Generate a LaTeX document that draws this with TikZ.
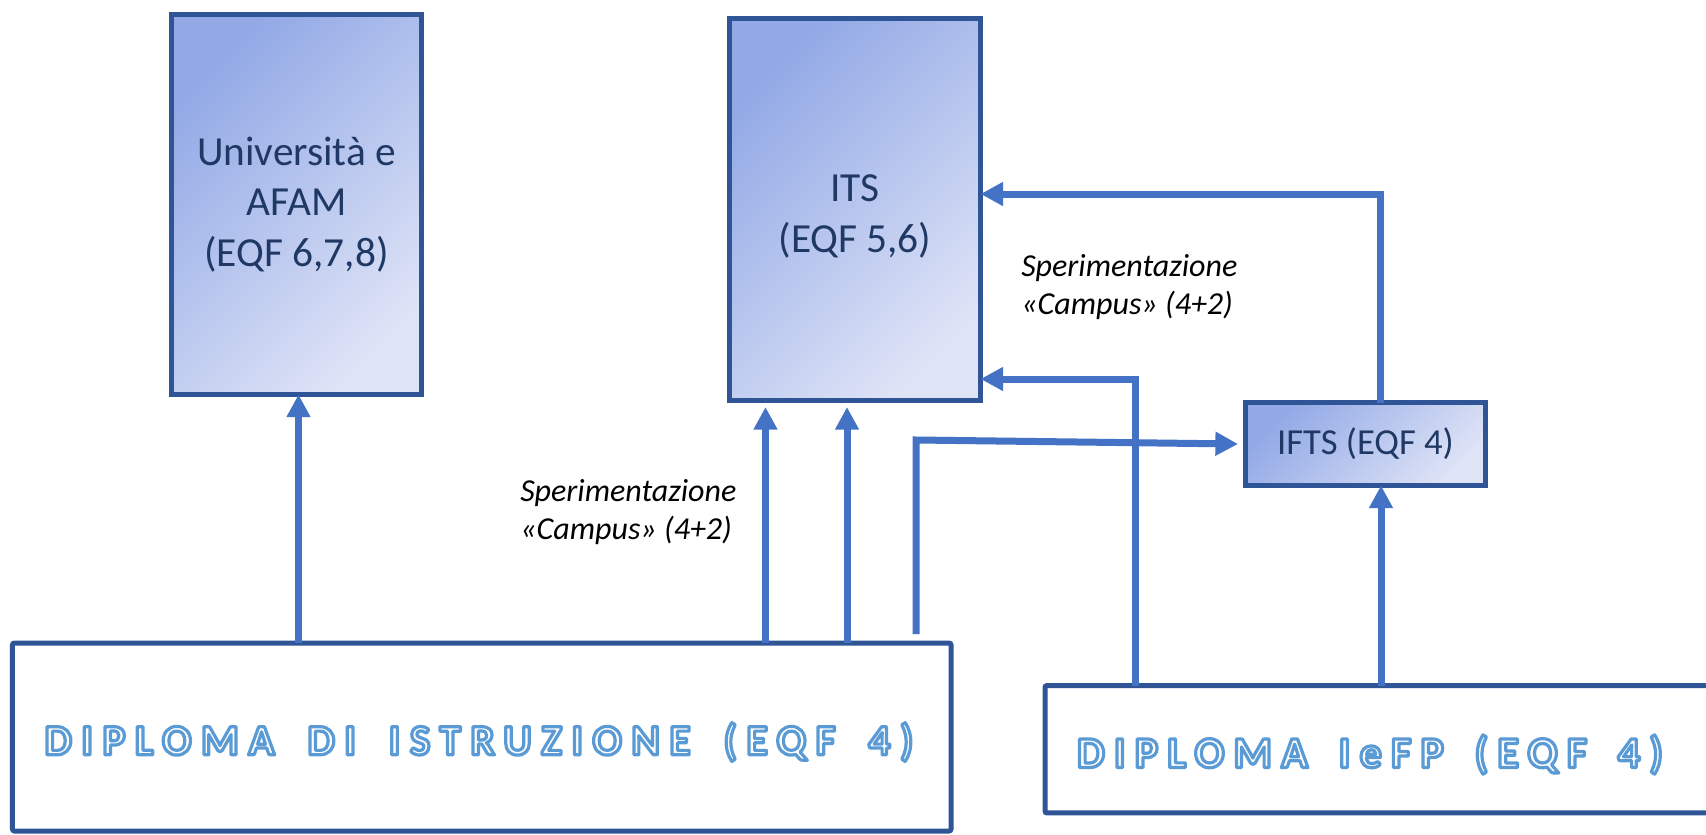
\documentclass[tikz,border=0pt]{standalone}
\usepackage{fontspec}
\setmainfont{Carlito}
\newfontfamily\spacedfontA[LetterSpace=22,WordSpace=1.7]{Carlito}
\newfontfamily\spacedfontB[LetterSpace=21,WordSpace=1.6]{Carlito}
\usetikzlibrary{arrows.meta}
\definecolor{boxborder}{RGB}{47,85,151}
\definecolor{arrowblue}{RGB}{68,114,196}
\definecolor{gradA}{RGB}{146,169,230}
\definecolor{gradB}{RGB}{222,227,246}
\definecolor{boxtext}{RGB}{31,56,100}
\definecolor{outl}{RGB}{91,155,213}
% white letters with a blue outline (text rendering mode 2: fill and stroke)
\newcommand{\outlinetext}[1]{\special{pdf:literal direct 2 Tr 2.4 w 1 j 1 1 1 rg 0.357 0.608 0.835 RG}#1\special{pdf:literal direct 0 Tr}}
\begin{document}
\begin{tikzpicture}[x=0.75pt,y=-0.75pt,
  gbox/.style={draw=boxborder, line width=3.6pt, top color=gradA, bottom color=gradB, shading angle=45,
    outer sep=0pt, inner sep=0pt, align=center, text=boxtext},
  boxtxt/.style={align=center, text=boxtext, inner sep=0pt},
  wbox/.style={draw=boxborder, line width=3.75pt, fill=white, outer sep=0pt, inner sep=0pt, rounded corners=1.5pt},
  arr/.style={draw=arrowblue, line width=5.25pt, -{Triangle[length=17pt,width=17pt]}},
  lbl/.style={font=\fontsize{24pt}{29pt}\selectfont\itshape, align=left, inner sep=0pt, anchor=west},
  bigtxt/.style={inner sep=0pt}
]
\fill[white] (0,0) rectangle (1706,835);
\useasboundingbox (0,0) rectangle (1706,835);

% boxes
\node[gbox, minimum width=187.5pt, minimum height=285pt, font=\fontsize{31pt}{37.9pt}\selectfont]
  (uni) at (296.5,204.5) {Università e\\AFAM\\(EQF 6,7,8)};
\node[gbox, minimum width=188.25pt, minimum height=286.5pt] (its) at (855,209.5) {};
\node[boxtxt, font=\fontsize{31pt}{37.9pt}\selectfont] (itstxt) at (855,216.5) {ITS\\(EQF 5,6)};
\node[gbox, minimum width=180pt, minimum height=62.25pt, font=\fontsize{27.5pt}{33pt}\selectfont]
  (ifts) at (1365.5,444) {IFTS (EQF 4)};
\node[wbox, minimum width=703.9pt, minimum height=141pt] (dist) at (481.75,737) {};
\node[wbox, minimum width=513.75pt, minimum height=95.6pt] (iefp) at (1387.5,749.25) {};

% labels
\node[lbl] (lab1) at (520,512) {Sperimentazione\\«Campus» (4+2)};
\node[lbl] (lab2) at (1021,287) {Sperimentazione\\«Campus» (4+2)};

% helper coordinates
\coordinate (xu) at (298.5,0);
\coordinate (xa) at (765.5,0);
\coordinate (xb) at (847,0);
\coordinate (xc) at (916,0);
\coordinate (c1) at (916,440);
\coordinate (xd) at (1381,0);
\coordinate (c2) at (1380,194);
\coordinate (c3) at (1135,379);

% connectors
\draw[arr] (xu |- dist.north) -- (xu |- uni.south);
\draw[arr] (xa |- dist.north) -- ([yshift=-4.9pt]xa |- its.south);
\draw[arr] (xb |- dist.north) -- ([yshift=-4.9pt]xb |- its.south);
\draw[arr] ([yshift=6.75pt]xc |- dist.north) -- (c1) -- ([xshift=-5.6pt]ifts.west);
\draw[arr] (xd |- iefp.north) -- (xd |- ifts.south);
\draw[arr] (c2 |- ifts.north) -- (c2) -- (its.east |- c2);
\draw[arr] (c3 |- iefp.north) -- (c3) -- (its.east |- c3);

% bottom texts (drawn last)
\node[bigtxt, font=\fontsize{32.5pt}{39pt}\spacedfontA\bfseries] (t1) at (479,742) {\outlinetext{DIPLOMA DI ISTRUZIONE (EQF 4)}};
\node[bigtxt, font=\fontsize{33pt}{40pt}\spacedfontB\bfseries] (t2) at (1370,754.5) {\outlinetext{DIPLOMA IeFP (EQF 4)}};
\end{tikzpicture}
\end{document}
